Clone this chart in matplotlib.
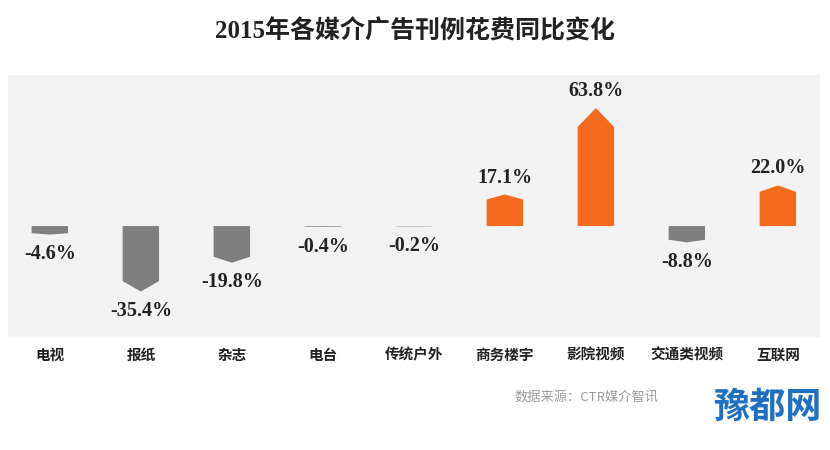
import matplotlib
matplotlib.use('Agg')
import numpy as np
import matplotlib.pyplot as plt
from matplotlib.patches import Polygon

#==============================================================================
# Data
#==============================================================================
categories = ['电视', '报纸', '杂志', '电台', '传统户外',
              '商务楼宇', '影院视频', '交通类视频', '互联网']
changes = [-4.6, -35.4, -19.8, -0.4, -0.2, 17.1, 63.8, -8.8, 22.0]
value_labels = ['-4.6%', '-35.4%', '-19.8%', '-0.4%', '-0.2%',
                '17.1%', '63.8%', '-8.8%', '22.0%']
title = '2015年各媒介广告刊例花费同比变化'
source = '数据来源：CTR媒介智讯'
watermark = '豫都网'

orange = '#F36A1E'
gray = '#7F7F7F'

cjk = ['Noto Sans CJK SC', 'DejaVu Sans']
num_font = ['Liberation Serif', 'Noto Sans CJK SC']

#==============================================================================
# Figure
#==============================================================================
fig = plt.figure(figsize=(8.3, 4.5), dpi=100)
ax = fig.add_axes([0.0096, 0.251, 0.978, 0.582])
ax.set_facecolor('#F2F2F2')
for s in ax.spines.values():
    s.set_visible(False)
ax.set_xticks([])
ax.set_yticks([])
ax.set_xlim(-0.46, 8.46)
ax.set_ylim(-60, 81.6)

half = 0.2  # half bar width
for i, v in enumerate(changes):
    tip = 0.16 * v  # pointed end height, proportional to bar length
    pts = [(i - half, 0), (i - half, v - tip), (i, v),
           (i + half, v - tip), (i + half, 0)]
    color = orange if v > 0 else gray
    ax.add_patch(Polygon(pts, closed=True, facecolor=color,
                         edgecolor='none'))
    if v > 0:
        ax.annotate(value_labels[i], (i, v), xytext=(0, 5),
                    textcoords='offset points', ha='center', va='bottom',
                    fontsize=14.5, fontweight='bold', family=num_font,
                    color='#222222')
    else:
        ax.annotate(value_labels[i], (i, v), xytext=(0, -7),
                    textcoords='offset points', ha='center', va='top',
                    fontsize=14.5, fontweight='bold', family=num_font,
                    color='#222222')

# category labels under the panel
for i, c in enumerate(categories):
    ax.annotate(c, (i, -60), xytext=(0, -7), textcoords='offset points',
                ha='center', va='top', fontsize=10.5, fontweight='bold',
                family=cjk, color='#222222', annotation_clip=False)

fig.text(0.5, 0.93, title, ha='center', va='center', fontsize=18,
         fontweight='bold', family=num_font, color='#222222')
fig.text(0.62, 0.118, source, ha='left', va='center', fontsize=9.5,
         family=['Noto Sans CJK SC', 'Liberation Serif'], color='#9A9A9A')
fig.text(0.99, 0.095, watermark, ha='right', va='center', fontsize=26,
         fontweight='bold', family=cjk, color='#1F6FC4')

plt.savefig('out.png', dpi=100)
